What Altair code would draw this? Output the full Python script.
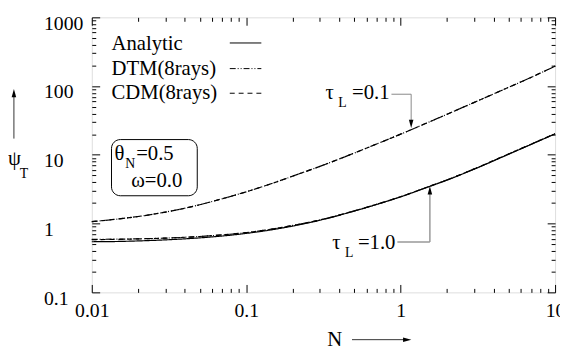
import altair as alt
import pandas as pd

# ---- data ----
N_vals = [0.01, 0.015, 0.02, 0.03, 0.05, 0.07, 0.1, 0.15, 0.2, 0.3, 0.5, 0.7, 1, 1.5, 2, 3, 5, 7, 10]
analytic_t10 = [0.545, 0.55, 0.56, 0.58, 0.62, 0.66, 0.72, 0.82, 0.92, 1.12, 1.52, 1.9, 2.45, 3.4, 4.3, 6.2, 10.2, 14.2, 20.2]
dtm_t10 = [0.59, 0.595, 0.60, 0.615, 0.65, 0.685, 0.74, 0.84, 0.94, 1.13, 1.53, 1.91, 2.46, 3.42, 4.32, 6.25, 10.3, 14.3, 20.3]
cdm_t10 = [0.585, 0.59, 0.60, 0.615, 0.65, 0.685, 0.74, 0.84, 0.94, 1.13, 1.53, 1.91, 2.46, 3.42, 4.32, 6.25, 10.3, 14.3, 20.3]
dtm_t01 = [1.07, 1.17, 1.27, 1.47, 1.88, 2.3, 2.9, 3.9, 4.9, 6.8, 10.6, 14.4, 20, 29.5, 39, 58, 96, 134, 195]
cdm_t01 = [1.07, 1.17, 1.27, 1.47, 1.88, 2.3, 2.9, 3.9, 4.9, 6.8, 10.6, 14.4, 20, 29.5, 39, 58, 96, 134, 195]

x_ticks = [m * 10 ** e for e in (-2, -1, 0) for m in range(1, 10)] + [10]
y_ticks = [m * 10 ** e for e in (-1, 0, 1, 2) for m in range(1, 10)] + [1000]
x_ticks = [float(f"{v:.6g}") for v in x_ticks]
y_ticks = [float(f"{v:.6g}") for v in y_ticks]

legend_labels = ["Analytic", "DTM(8rays)", "CDM(8rays)"]

FONT = "Times New Roman, Liberation Serif, DejaVu Serif, serif"
FS = 21
W, H = 470, 279

def make_df(vals, name):
    return pd.DataFrame({"N": N_vals, "psi": vals, "series": name})

major_test = "abs(log(datum.value)/LN10 - round(log(datum.value)/LN10)) < 0.001"
tick_size = {"condition": {"test": major_test, "expr": "-8"}, "expr": "-4"}
label_expr = f"({major_test}) ? format(datum.value, '~g') : ''"

def axis(orient, labels=True, **kw):
    return alt.Axis(orient=orient, values=x_ticks if orient in ("top", "bottom") else y_ticks,
                    tickSize=tick_size, tickColor="black", tickWidth=1, domain=False, grid=False,
                    labels=labels, labelExpr=label_expr, labelOverlap=False, labelFlush=False,
                    labelFont=FONT, labelFontSize=20, labelColor="black", title=None, **kw)

xs = alt.Scale(type="log", domain=[0.01, 10])
ys = alt.Scale(type="log", domain=[0.1, 1000])

def curve(vals, name, dash, ax=None, ay=None, opacity=1):
    return alt.Chart(make_df(vals, name)).mark_line(
        color="black", strokeWidth=1.2, strokeDash=dash, interpolate="monotone", opacity=opacity
    ).encode(
        x=alt.X("N:Q", scale=xs, axis=ax),
        y=alt.Y("psi:Q", scale=ys, axis=ay),
    )

DTM_DASH = [6, 2, 1, 2, 1, 2]
CDM_DASH = [5, 4]

curves = [
    curve(analytic_t10, "Analytic", [1, 0],
          ax=axis("bottom", labelPadding=16),
          ay=axis("left", labelPadding=57, labelAlign="left", labelBaseline="middle", labelOffset=6)),
    curve(dtm_t10, "DTM", DTM_DASH),
    curve(cdm_t10, "CDM", CDM_DASH),
    curve(dtm_t01, "DTM", DTM_DASH),
    curve(cdm_t01, "CDM", CDM_DASH),
    curve(analytic_t10, "mirror", [1, 0],
          ax=axis("top", labels=False), ay=axis("right", labels=False), opacity=0),
]

# ---- annotations (pixel positions within plot area) ----
def txt(s, x, y, size=FS, align="left", baseline="alphabetic"):
    return alt.Chart(pd.DataFrame({"t": [s]})).mark_text(
        font=FONT, fontSize=size, color="black", align=align, baseline=baseline
    ).encode(x=alt.value(x), y=alt.value(y), text="t:N")

def seg(x1, y1, x2, y2, color="black", dash=None, width=1):
    kw = dict(color=color, strokeWidth=width)
    if dash:
        kw["strokeDash"] = dash
    return alt.Chart(pd.DataFrame({"a": [0]})).mark_rule(**kw).encode(
        x=alt.value(x1), y=alt.value(y1), x2=alt.value(x2), y2=alt.value(y2))

def head(x, y, shape):
    return alt.Chart(pd.DataFrame({"a": [0]})).mark_point(
        shape=shape, filled=True, color="black", opacity=1, size=70, strokeWidth=0
    ).encode(x=alt.value(x), y=alt.value(y))

DOWN = "M0,1L-0.55,-1L0.55,-1Z"
UP = "M0,-1L-0.55,1L0.55,1Z"
RIGHT = "M1,0L-1,-0.55L-1,0.55Z"

ann = [
    # legend
    txt(legend_labels[0], 20, 27, baseline="middle"),
    txt(legend_labels[1], 20, 52, baseline="middle"),
    txt(legend_labels[2], 20, 77, baseline="middle"),
    seg(140, 26, 172, 26),
    seg(140, 52, 172, 52, dash=DTM_DASH),
    seg(140, 77, 172, 77, dash=CDM_DASH),
    # parameter box
    alt.Chart(pd.DataFrame({"a": [0]})).mark_rect(
        fill="white", fillOpacity=0, stroke="black", strokeWidth=1, cornerRadius=9
    ).encode(x=alt.value(20), x2=alt.value(107), y=alt.value(124), y2=alt.value(181)),
    txt("θ", 23, 145),
    txt("N", 34, 153, size=14),
    txt("=0.5", 45, 145),
    txt("ω=0.0", 40, 172),
    # tau = 0.1 label and arrow
    txt("τ", 237, 83),
    txt("L", 250, 91, size=14),
    txt("=0.1", 264, 83),
    seg(304, 78, 324, 78, color="#888888"),
    seg(324, 78, 324, 106, color="#888888"),
    head(324, 108, DOWN),
    # tau = 1.0 label and arrow
    txt("τ", 244, 235),
    txt("L", 257, 243, size=14),
    txt("=1.0", 270, 235),
    seg(310, 228, 343, 228, color="#999999", width=1.5),
    seg(343, 228, 343, 178, color="#999999", width=1.5),
    head(343, 175.5, UP),
    # axis titles
    txt("N", 239, 333),
    seg(264, 327, 318, 327, color="#333333"),
    head(320, 327, RIGHT),
    txt("ψ", -85, 150),
    txt("T", -73, 163, size=14),
    seg(-79, 123, -79, 80, color="#333333"),
    head(-79, 77, UP),
]

chart = alt.layer(*curves, *ann).resolve_axis(x="independent", y="independent").properties(
    width=W, height=H,
    autosize=alt.AutoSizeParams(type="none"),
    padding={"left": 85, "top": 7, "right": 5, "bottom": 56},
).configure_view(stroke="black", strokeWidth=1).configure(background="white")

chart.save("out.html", embed_options={"renderer": "svg", "actions": False})
